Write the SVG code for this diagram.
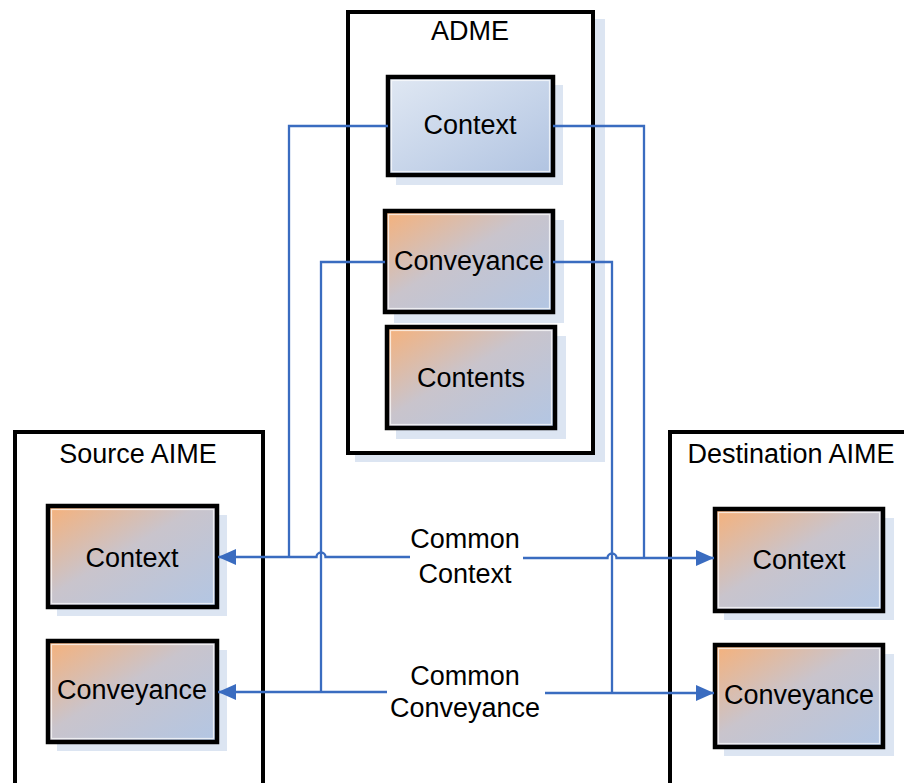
<svg xmlns="http://www.w3.org/2000/svg" width="904" height="783" viewBox="0 0 904 783">
<defs>
<style>
.cont{fill:#fff;stroke:#000;stroke-width:4}
.box{stroke:#000;stroke-width:4.5}
.grad{fill:url(#og)}
.blue{fill:url(#bg)}
.inner{fill:none;stroke:#fff;stroke-width:1.2;stroke-opacity:0.7}
.sh{fill:#dce5f2}
.t{font-family:"Liberation Sans",Arial,sans-serif;font-size:27px;fill:#000;text-anchor:middle}
.c{fill:none;stroke:#3a6cc0;stroke-width:2.3}
</style>
<linearGradient id="og" x1="0" y1="0" x2="1" y2="1">
<stop offset="0" stop-color="#f6b17a"/>
<stop offset="0.45" stop-color="#c9c4cc"/>
<stop offset="1" stop-color="#b2c6e4"/>
</linearGradient>
<linearGradient id="bg" x1="0" y1="0" x2="1" y2="1">
<stop offset="0" stop-color="#e0e8f3"/>
<stop offset="1" stop-color="#b0c3e1"/>
</linearGradient>
<marker id="ar" viewBox="0 0 18 16" refX="18" refY="8" markerWidth="18" markerHeight="16" markerUnits="userSpaceOnUse" orient="auto">
<path d="M0,0 L18,8 L0,16 Z" fill="#3a6cc0"/>
</marker>
</defs>

<g id="adme">
<rect class="sh" x="355" y="19" width="250" height="443"/>
<rect class="cont" x="348" y="12" width="245" height="441"/>
<text class="t" x="470" y="40">ADME</text>
</g>
<g id="source-aime">
<rect class="cont" x="15" y="432" width="248" height="370"/>
<text class="t" x="138" y="463">Source AIME</text>
</g>
<g id="destination-aime">
<rect class="cont" x="670" y="432" width="260" height="370"/>
<text class="t" x="791" y="463">Destination AIME</text>
</g>

<g id="adme-context">
<rect class="sh" x="396" y="85" width="167" height="100"/>
<rect class="box blue" x="388" y="77" width="165" height="98"/>
<rect class="inner" x="391.5" y="80.5" width="158" height="91"/>
<text class="t" x="470" y="134">Context</text>
</g>
<g id="adme-conveyance">
<rect class="sh" x="394" y="220" width="170" height="103"/>
<rect class="box grad" x="385" y="211" width="168" height="101"/>
<rect class="inner" x="388.5" y="214.5" width="161" height="94"/>
<text class="t" x="469" y="270">Conveyance</text>
</g>
<g id="adme-contents">
<rect class="sh" x="396" y="336" width="170" height="103"/>
<rect class="box grad" x="387" y="327" width="168" height="101"/>
<rect class="inner" x="390.5" y="330.5" width="161" height="94"/>
<text class="t" x="471" y="387">Contents</text>
</g>

<g id="source-context">
<rect class="sh" x="57" y="515" width="170" height="101"/>
<rect class="box grad" x="48" y="506" width="169" height="101"/>
<rect class="inner" x="51.5" y="509.5" width="162" height="94"/>
<text class="t" x="132" y="567">Context</text>
</g>
<g id="source-conveyance">
<rect class="sh" x="57" y="650" width="170" height="101"/>
<rect class="box grad" x="48" y="641" width="169" height="101"/>
<rect class="inner" x="51.5" y="644.5" width="162" height="94"/>
<text class="t" x="132" y="699">Conveyance</text>
</g>

<g id="destination-context">
<rect class="sh" x="724" y="518" width="170" height="102"/>
<rect class="box grad" x="715" y="509" width="168" height="102"/>
<rect class="inner" x="718.5" y="512.5" width="161" height="95"/>
<text class="t" x="799" y="569">Context</text>
</g>
<g id="destination-conveyance">
<rect class="sh" x="724" y="654" width="170" height="102"/>
<rect class="box grad" x="715" y="645" width="168" height="102"/>
<rect class="inner" x="718.5" y="648.5" width="161" height="95"/>
<text class="t" x="799" y="704">Conveyance</text>
</g>

<g id="connectors">
<path class="c" d="M388,126 L289,126 L289,557"/>
<path class="c" d="M553,126 L644,126 L644,558"/>
<path class="c" d="M385,262 L321,262 L321,692"/>
<path class="c" d="M553,262 L612,262 L612,693"/>
<path class="c" marker-end="url(#ar)" d="M410,557 L325.5,557 A4.5,4.5 0 0 0 316.5,557 L218,557"/>
<path class="c" marker-end="url(#ar)" d="M523,558 L607.5,558 A4.5,4.5 0 0 1 616.5,558 L714,558"/>
<path class="c" marker-end="url(#ar)" d="M387,692 L218,692"/>
<path class="c" marker-end="url(#ar)" d="M545,693 L714,693"/>
<text class="t" x="465" y="548">Common</text>
<text class="t" x="465" y="583">Context</text>
<text class="t" x="465" y="685">Common</text>
<text class="t" x="465" y="717">Conveyance</text>
</g>
</svg>
